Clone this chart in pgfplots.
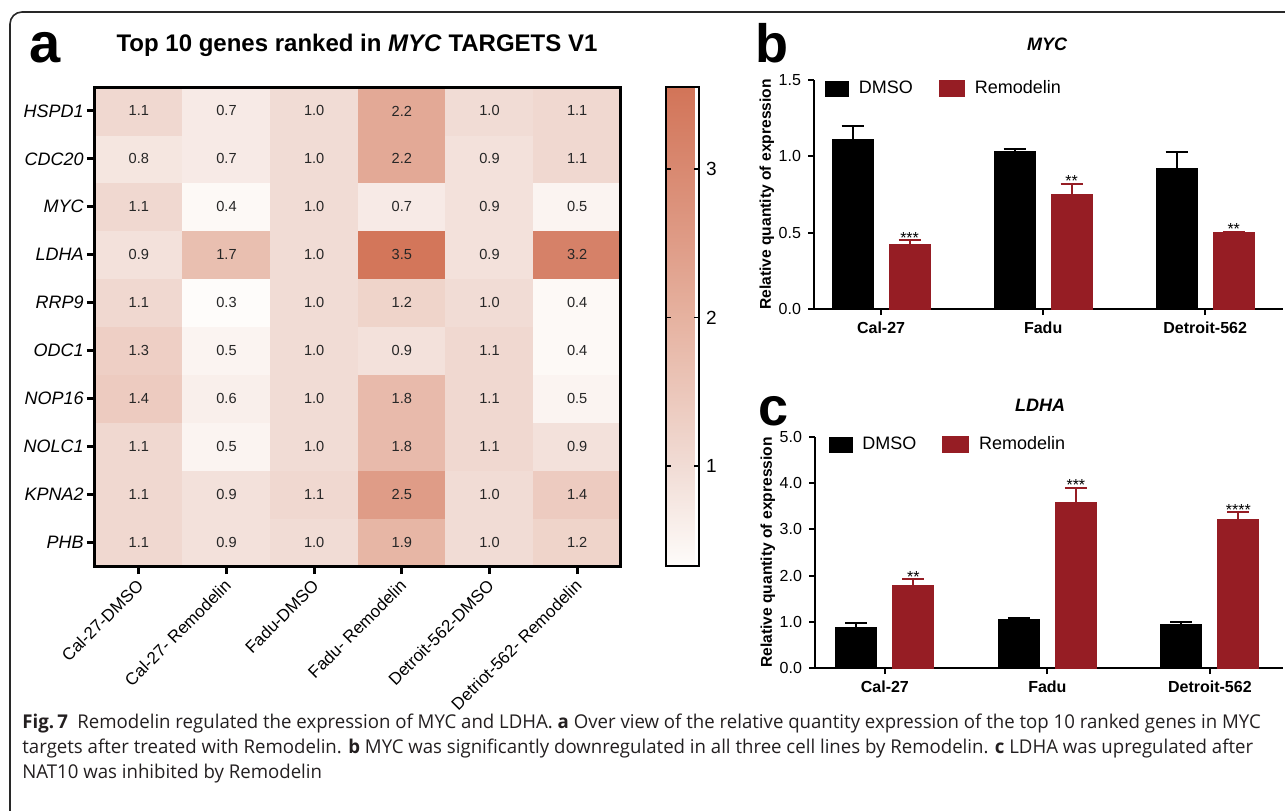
\documentclass[border=0pt]{standalone}
\usepackage{fontspec}
\setmainfont{Liberation Sans}
\newfontfamily\capfont[FakeStretch=0.98]{Open Sans}
\usepackage{pgfplots}
\pgfplotsset{compat=1.18}
\usepackage{pgfplotstable}
\definecolor{remred}{RGB}{150,29,36}
\definecolor{capgray}{RGB}{35,31,32}
\definecolor{framegray}{RGB}{40,40,40}

\pgfplotsset{
  colormap={heat}{
    rgb255(0cm)=(254,252,250)
    rgb255(0.67cm)=(241,220,213)
    rgb255(1.67cm)=(230,178,160)
    rgb255(2.17cm)=(223,156,135)
    rgb255(3.22cm)=(210,116,88)
  },
  every outer x axis line/.append style={-},
  every outer y axis line/.append style={-},
}
\tikzset{starlbl/.style={font=\fontsize{8}{8}\selectfont, anchor=base, inner sep=0pt, yshift=-1.5pt}}

% heatmap values: x = sample, y = gene (0 = PHB ... 9 = HSPD1)
\pgfplotstableread{
x y v
0 0 1.1
1 0 0.9
2 0 1.0
3 0 1.9
4 0 1.0
5 0 1.2
0 1 1.1
1 1 0.9
2 1 1.1
3 1 2.5
4 1 1.0
5 1 1.4
0 2 1.1
1 2 0.5
2 2 1.0
3 2 1.8
4 2 1.1
5 2 0.9
0 3 1.4
1 3 0.6
2 3 1.0
3 3 1.8
4 3 1.1
5 3 0.5
0 4 1.3
1 4 0.5
2 4 1.0
3 4 0.9
4 4 1.1
5 4 0.4
0 5 1.1
1 5 0.3
2 5 1.0
3 5 1.2
4 5 1.0
5 5 0.4
0 6 0.9
1 6 1.7
2 6 1.0
3 6 3.5
4 6 0.9
5 6 3.2
0 7 1.1
1 7 0.4
2 7 1.0
3 7 0.7
4 7 0.9
5 7 0.5
0 8 0.8
1 8 0.7
2 8 1.0
3 8 2.2
4 8 0.9
5 8 1.1
0 9 1.1
1 9 0.7
2 9 1.0
3 9 2.2
4 9 1.0
5 9 1.1
}\heatdata

\pgfplotstableread{
x d de r re
0 1.11 0.09 0.42 0.03
1 1.03 0.02 0.75 0.07
2 0.92 0.11 0.50 0.005
}\mycdata

\pgfplotstableread{
x d de r re
0 0.87 0.11 1.78 0.14
1 1.05 0.04 3.58 0.32
2 0.95 0.04 3.22 0.15
}\ldhadata

\pgfplotsset{
  barax/.style={
    scale only axis,
    axis x line=bottom, axis y line=left,
    axis line style={-, line width=1pt},
    xtick={0,1,2}, xticklabels={Cal-27,Fadu,Detroit-562},
    tick align=outside, major tick length=3pt,
    tick style={line width=1pt, black},
    xticklabel style={font=\bfseries\fontsize{8}{9}\selectfont},
    yticklabel style={font=\fontsize{8}{9}\selectfont,
      /pgf/number format/.cd, fixed, fixed zerofill, precision=1, assume math mode=true},
    ylabel={Relative quantity of expression},
    ylabel style={font=\bfseries\fontsize{7.8}{9}\selectfont,
      at={(axis description cs:-0.070,0.5)}, anchor=south},
    clip=false,
    legend columns=2,
    legend style={draw=none, fill=none, anchor=west, inner sep=0pt,
      font=\fontsize{9}{10}\selectfont,
      /tikz/every odd column/.append style={column sep=3pt},
      /tikz/every even column/.append style={column sep=11pt}},
  },
  dbar/.style={ybar, bar width=20.5pt, bar shift=-14.25pt, fill=black, draw=black, forget plot},
  rbar/.style={ybar, bar width=20.5pt, bar shift=14.25pt, fill=remred, draw=remred, forget plot},
  errb/.style={draw=none, no markers, forget plot,
    error bars/.cd, y dir=plus, y explicit,
    error bar style={draw=#1, line width=1pt},
    error mark options={rotate=90, draw=#1, line width=1pt, mark size=5.5pt}},
}

\begin{document}
\begin{tikzpicture}
\path[use as bounding box, clip] (0pt,0pt) rectangle (642.5pt,-405pt);

\begin{scope}[x=0.5pt, y=-0.5pt]
  % frame
  \draw[framegray, line width=0.8pt, rounded corners=6pt] (10,12) rectangle (1320,830);
  % panel letters
  \node[anchor=base west, inner sep=0pt, font=\bfseries\fontsize{28}{28}\selectfont] at (29,62) {a};
  \node[anchor=base west, inner sep=0pt, font=\bfseries\fontsize{27}{27}\selectfont] at (755,62) {b};
  \node[anchor=base west, inner sep=0pt, font=\bfseries\fontsize{27}{27}\selectfont] at (758,425) {c};
  % titles
  \node[anchor=base, inner sep=0pt, font=\bfseries\fontsize{12}{13}\selectfont] at (357,51) {Top 10 genes ranked in \textit{MYC} TARGETS V1};
  \node[anchor=base, inner sep=0pt, font=\bfseries\itshape\fontsize{9}{10}\selectfont] at (1047,50) {MYC};
  \node[anchor=base, inner sep=0pt, font=\bfseries\itshape\fontsize{9}{10}\selectfont] at (1040,411) {LDHA};
  % caption
  \node[anchor=base west, inner sep=0pt, text=capgray, font=\capfont\fontsize{9.5}{10}\selectfont] at (22,728)
    {\textbf{Fig.\,7}\enspace Remodelin regulated the expression of MYC and LDHA. \textbf{a} Over view of the relative quantity expression of the top 10 ranked genes in MYC};
  \node[anchor=base west, inner sep=0pt, text=capgray, font=\capfont\fontsize{9.5}{10}\selectfont] at (22,753)
    {targets after treated with Remodelin. \textbf{b} MYC was significantly downregulated in all three cell lines by Remodelin. \textbf{c} LDHA was upregulated after};
  \node[anchor=base west, inner sep=0pt, text=capgray, font=\capfont\fontsize{9.5}{10}\selectfont] at (22,778)
    {NAT10 was inhibited by Remodelin};
\end{scope}

% ---------------- heatmap (a) ----------------
\begin{axis}[
  at={(47.5pt,-43.5pt)}, anchor=north west,
  scale only axis, width=263pt, height=239.5pt,
  xmin=-0.5, xmax=5.5, ymin=-0.5, ymax=9.5, enlargelimits=false,
  axis on top,
  axis line style={line width=1.5pt},
  xtick={0,...,5}, ytick={0,...,9},
  xticklabels={Cal-27-DMSO, Cal-27- Remodelin, Fadu-DMSO, Fadu- Remodelin, Detroit-562-DMSO, Detriot-562- Remodelin},
  yticklabels={PHB,KPNA2,NOLC1,NOP16,ODC1,RRP9,LDHA,MYC,CDC20,HSPD1},
  tick align=outside, major tick length=4pt,
  tick style={line width=1.5pt, black},
  xtick pos=left, ytick pos=left,
  yticklabel style={font=\itshape\fontsize{9}{10}\selectfont, inner sep=1.5pt},
  xticklabel style={font=\fontsize{8.5}{9}\selectfont, xshift=1.5pt, yshift=-3.5pt, rotate=45, anchor=east, inner sep=1pt},
  colormap name=heat, point meta min=0.33, point meta max=3.55,
  colorbar,
  colorbar style={
    at={(parent axis.north east)}, anchor=north west, xshift=14pt,
    scale only axis, width=16.5pt,
    ytick={1,2,3}, tick align=inside, major tick length=2.5pt,
    ytick pos=both, yticklabel pos=right,
    tick style={line width=0.9pt, black},
    axis line style={line width=0.8pt},
    yticklabel style={font=\fontsize{9.5}{10}\selectfont, /pgf/number format/assume math mode=true},
  },
]
\addplot[matrix plot*, mesh/cols=6, point meta=explicit,
  nodes near coords={\pgfmathprintnumber[fixed,fixed zerofill,precision=1,assume math mode=true]{\pgfplotspointmeta}},
  every node near coord/.append style={anchor=center, font=\fontsize{7.3}{8}\selectfont, text=black!85}]
  table[x=x, y=y, meta=v] {\heatdata};
\end{axis}

% ---------------- MYC (b) ----------------
\begin{axis}[barax,
  at={(407pt,-154.5pt)}, anchor=south west,
  width=234.5pt, height=114.5pt,
  xmin=-0.414, xmax=2.48, ymin=0, ymax=1.5,
  ytick={0,0.5,1,1.5},
  legend style={at={(0.023,0.963)}},
]
\addlegendimage{legend image code/.code={\fill[black] (0pt,-3.75pt) rectangle (11.5pt,3.75pt);}}
\addlegendentry{DMSO}
\addlegendimage{legend image code/.code={\fill[remred] (0pt,-4pt) rectangle (12.5pt,4pt);}}
\addlegendentry{Remodelin}
\addplot[dbar] table[x=x, y=d] {\mycdata};
\addplot[rbar] table[x=x, y=r] {\mycdata};
\addplot[errb=black] table[x expr=\thisrow{x}-0.176, y=d, y error=de] {\mycdata};
\addplot[errb=remred] table[x expr=\thisrow{x}+0.176, y=r, y error=re] {\mycdata};
\node[starlbl] at (axis cs:0,0.45) [xshift=14.25pt] {***};
\node[starlbl] at (axis cs:1,0.82) [xshift=14.25pt] {**};
\node[starlbl] at (axis cs:2,0.505) [xshift=14.25pt] {**};
\end{axis}

% ---------------- LDHA (c) ----------------
\begin{axis}[barax,
  at={(407.5pt,-334pt)}, anchor=south west,
  width=234pt, height=115.5pt,
  xmin=-0.43, xmax=2.45, ymin=0, ymax=5,
  ytick={0,1,2,3,4,5},
  legend style={at={(0.028,0.967)}},
]
\addlegendimage{legend image code/.code={\fill[black] (0pt,-3.75pt) rectangle (11.5pt,3.75pt);}}
\addlegendentry{DMSO}
\addlegendimage{legend image code/.code={\fill[remred] (0pt,-4pt) rectangle (13pt,4pt);}}
\addlegendentry{Remodelin}
\addplot[dbar] table[x=x, y=d] {\ldhadata};
\addplot[rbar] table[x=x, y=r] {\ldhadata};
\addplot[errb=black] table[x expr=\thisrow{x}-0.1754, y=d, y error=de] {\ldhadata};
\addplot[errb=remred] table[x expr=\thisrow{x}+0.1754, y=r, y error=re] {\ldhadata};
\node[starlbl] at (axis cs:0,1.92) [xshift=14.25pt] {**};
\node[starlbl] at (axis cs:1,3.90) [xshift=14.25pt] {***};
\node[starlbl] at (axis cs:2,3.37) [xshift=14.25pt] {****};
\end{axis}
\end{tikzpicture}
\end{document}
